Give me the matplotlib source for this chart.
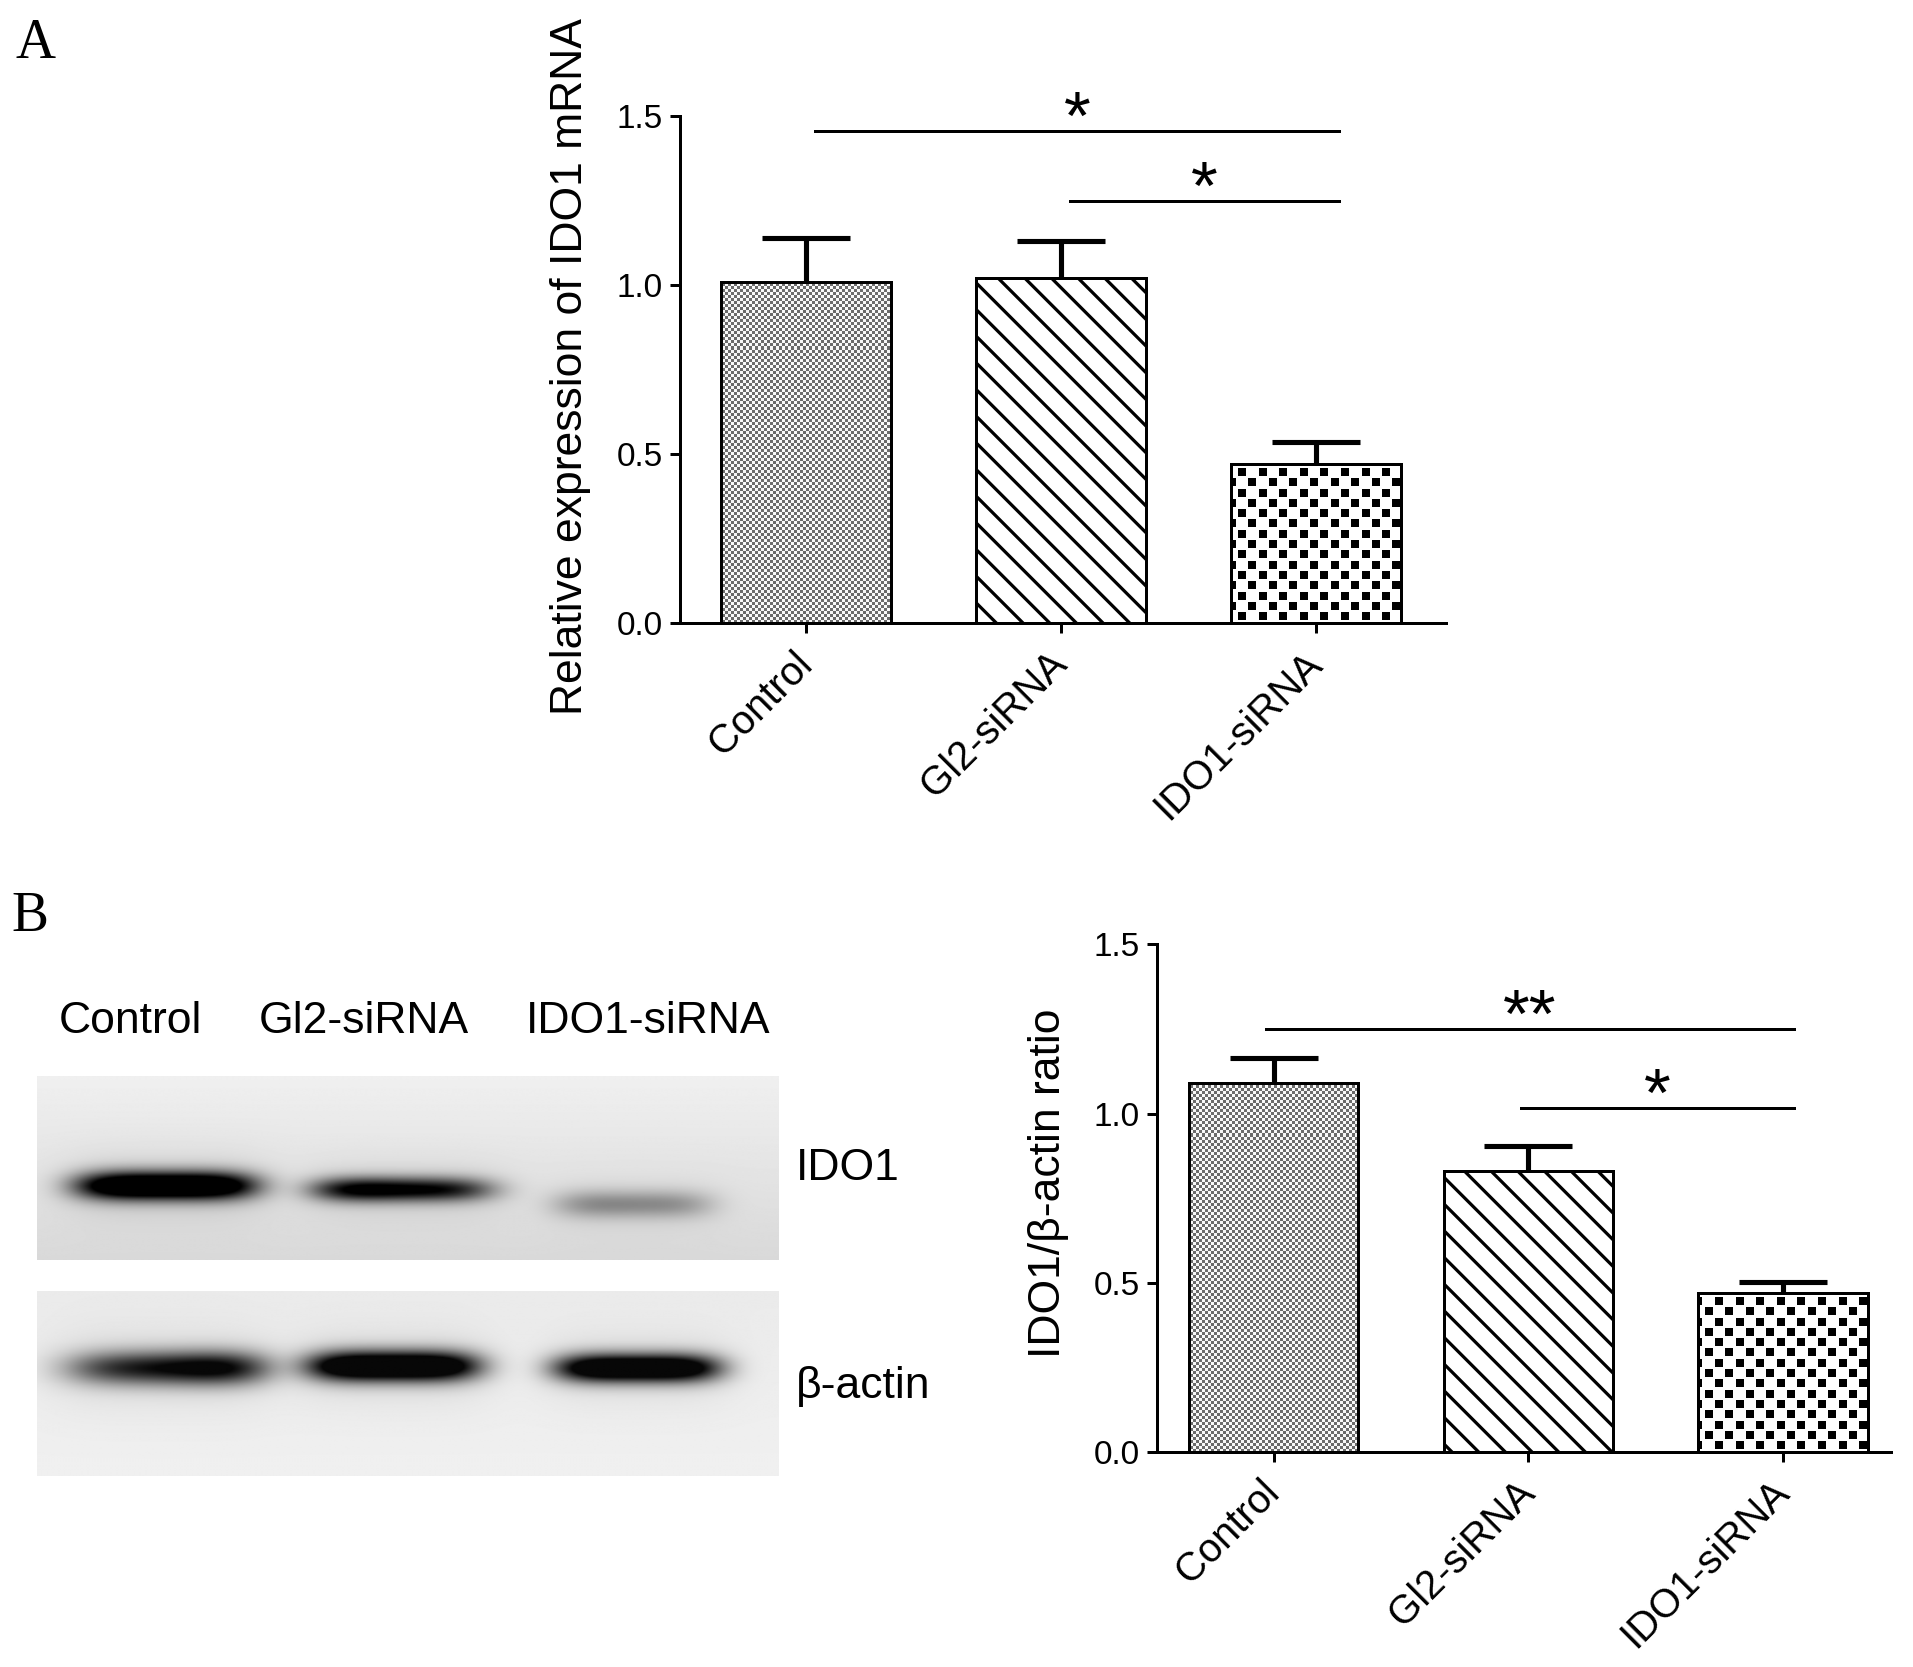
import matplotlib
matplotlib.use("Agg")
import matplotlib.pyplot as plt
import numpy as np

# ---- data ----
groups = ["Control", "Gl2-siRNA", "IDO1-siRNA"]

mrna_mean = [1.01, 1.02, 0.47]
mrna_sem = [0.13, 0.11, 0.065]
mrna_pairs = [(0, 2), (1, 2)]
mrna_sig_y = [1.457, 1.248]
mrna_sig_txt = ["*", "*"]

protein_mean = [1.09, 0.83, 0.47]
protein_sem = [0.075, 0.075, 0.032]
protein_pairs = [(0, 2), (1, 2)]
protein_sig_y = [1.251, 1.017]
protein_sig_txt = ["**", "*"]

# relative band darkness on the western blot
ido1_band = [1.0, 0.8, 0.32]
actin_band = [0.85, 1.0, 0.95]

W, H, DPI = 1913, 1667, 160
plt.rcParams['font.family'] = 'Liberation Sans'
plt.rcParams['hatch.linewidth'] = 1.45
fig = plt.figure(figsize=(W / DPI, H / DPI), dpi=DPI)

textures = ["dots", "lines", "checks"]


def make_texture(kind, h, w):
    yy, xx = np.indices((h, w))
    if kind == "dots":
        dark = ((yy // 3 + xx // 3) % 2 == 0)
        return np.where(dark, 0.42, 0.97)
    if kind == "checks":
        c = 10.3
        cx, cy = np.floor(xx / c), np.floor(yy / c)
        ox, oy = xx - cx * c, yy - cy * c
        on = ((cx + cy) % 2 == 0) & (ox >= 1.2) & (ox < 9.2) & (oy >= 1.2) & (oy < 9.2)
        return np.where(on, 0.0, 1.0)
    return np.ones((h, w))


def bar_panel(ax, means, sems, pairs, sig_y, sig_txt, xlim, ylabel, ylab_xy, line_ext):
    x = np.arange(len(groups))
    bars = ax.bar(x, means, width=0.665, facecolor="none", edgecolor="black",
                  linewidth=1.35, zorder=3)
    bars[1].set_hatch("\\\\")
    bb = ax.get_window_extent()
    h, w = int(round(bb.height)), int(round(bb.width))
    for bar, kind in zip(bars, textures):
        if kind == "lines":
            continue
        im = ax.imshow(make_texture(kind, h, w), extent=(xlim[0], xlim[1], 0, 1.5),
                       aspect="auto", interpolation="nearest", cmap="gray",
                       vmin=0, vmax=1, zorder=1)
        im.set_clip_path(bar)
    eb = ax.errorbar(x, means, yerr=[np.zeros(len(means)), sems], fmt="none", ecolor="black",
                     elinewidth=2.3, capsize=20, capthick=2.3, zorder=4)
    eb[1][0].set_visible(False)  # no cap at the bar top
    for (i, j), yv, t in zip(pairs, sig_y, sig_txt):
        x0, x1 = i + line_ext[0], j + line_ext[1]
        ax.plot([x0, x1], [yv, yv], color="black", lw=1.35, clip_on=False)
        ax.text((x0 + x1) / 2, yv + 0.03, t, ha="center", va="center",
                fontsize=31, clip_on=False)
    ax.set_xlim(*xlim)
    ax.set_ylim(0, 1.5)
    ax.set_yticks([0, 0.5, 1.0, 1.5])
    ax.set_yticklabels(["0.0", "0.5", "1.0", "1.5"])
    ax.set_xticks(x)
    ax.set_xticklabels(groups, rotation=45, ha="right", va="center", rotation_mode="anchor")
    ax.tick_params(axis="both", direction="out", length=4.5, width=1.35, colors="black")
    ax.tick_params(axis="y", labelsize=15, pad=3)
    ax.tick_params(axis="x", labelsize=18, pad=11)
    ax.spines[["top", "right"]].set_visible(False)
    for s in ["left", "bottom"]:
        ax.spines[s].set_linewidth(1.35)
    ax.text(ylab_xy[0], ylab_xy[1], ylabel, rotation=90, ha="center", va="center",
            fontsize=20, transform=ax.transAxes)


# ---- panel A ----
axA = fig.add_axes([0.3553, 0.626, 0.4005, 0.3044])
bar_panel(axA, mrna_mean, mrna_sem, mrna_pairs, mrna_sig_y, mrna_sig_txt,
          (-0.495, 2.51), "Relative expression of IDO1 mRNA", (-0.142, 0.507), (0.036, 0.09))

# ---- panel B bars ----
axB = fig.add_axes([0.6046, 0.1291, 0.3839, 0.3044])
bar_panel(axB, protein_mean, protein_sem, protein_pairs, protein_sig_y, protein_sig_txt,
          (-0.46, 2.424), "IDO1/\u03b2-actin ratio", (-0.1466, 0.53), (-0.03, 0.043))

# ---- western blot ----
lane_c = [[0.174, 0.495, 0.805], [0.17, 0.48, 0.81]]
lane_hw = [[0.12, 0.12, 0.105], [0.135, 0.115, 0.11]]
band_y = [[0.60, 0.62, 0.70], [0.42, 0.41, 0.42]]
band_sig = [[0.075, 0.065, 0.075], [0.09, 0.08, 0.075]]
band_tilt = [[(1.0, 1.0), (1.0, 0.7), (0.8, 0.7)], [(0.5, 1.0), (1.0, 1.0), (1.0, 1.0)]]
bg_top = [(0.94, 0.85), (0.92, 0.94)]


def blot_image(k, strength, h=200, w=740):
    yy, xx = np.mgrid[0:1:h * 1j, 0:1:w * 1j]
    bg = bg_top[k][0] + (bg_top[k][1] - bg_top[k][0]) * yy
    d = np.zeros_like(xx)
    for j, s in enumerate(strength):
        dx = (xx - lane_c[k][j]) / lane_hw[k][j]
        tl, tr = band_tilt[k][j]
        tilt = tl + (tr - tl) * np.clip((dx + 1) / 2, 0, 1)
        prof = np.exp(-np.abs(dx) ** 4) * np.exp(-((yy - band_y[k][j]) / band_sig[k][j]) ** 2)
        halo = np.exp(-np.abs(dx / 1.15) ** 4) * np.exp(-((yy - band_y[k][j]) / (band_sig[k][j] * 2.5)) ** 2)
        d += 1.5 * s * tilt * prof + 0.08 * s * halo
    return bg - 0.9 * np.clip(d, 0, 1)


for k, (pos, strength) in enumerate([([0.0191, 0.2441, 0.3878, 0.1104], ido1_band),
                                      ([0.0191, 0.1146, 0.3878, 0.1110], actin_band)]):
    axb = fig.add_axes(pos)
    axb.imshow(blot_image(k, strength), cmap="gray", vmin=0, vmax=1, aspect="auto",
               interpolation="bilinear")
    axb.axis("off")

for xc, name in zip([0.0682, 0.1904, 0.3387], groups):
    fig.text(xc, 0.387, name, ha="center", va="center", fontsize=20)
fig.text(0.4158, 0.2989, "IDO1", ha="left", va="center", fontsize=20)
fig.text(0.4158, 0.168, "\u03b2-actin", ha="left", va="center", fontsize=20)

fig.text(0.008, 0.989, "A", ha="left", va="top", fontsize=25, family="Liberation Serif")
fig.text(0.006, 0.4657, "B", ha="left", va="top", fontsize=25, family="Liberation Serif")

fig.savefig("out.png", dpi=DPI, facecolor="white")
